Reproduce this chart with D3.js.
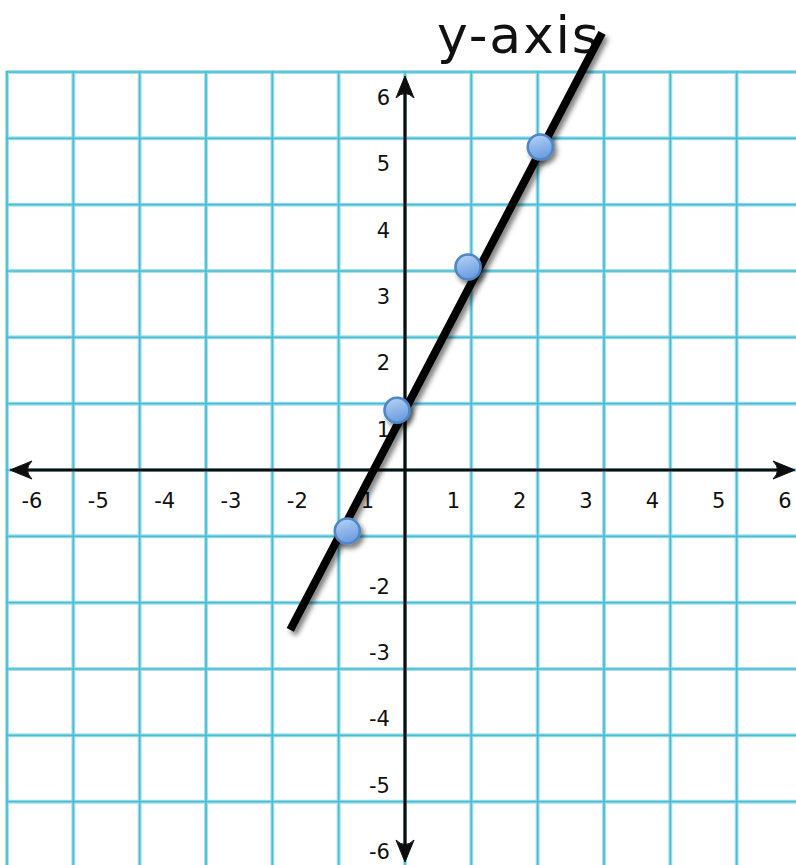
<!DOCTYPE html>
<html>
<head>
<meta charset="utf-8">
<script src="https://cdn.jsdelivr.net/npm/d3@7"></script>
<style>
  html, body { margin: 0; padding: 0; background: #fff; }
  svg { display: block; }
</style>
</head>
<body>
<svg id="chart" width="796" height="865"></svg>
<script>
// Graph-paper plot of a straight line through four marked points
const gridValues = d3.range(-6, 7);                 // grid lines from -6 to 6
const xTickLabels = [-6, -5, -4, -3, -2, -1, 1, 2, 3, 4, 5, 6];
const yTickLabels = [6, 5, 4, 3, 2, 1, -2, -3, -4, -5, -6];
const pointX = [-0.87, -0.12, 0.95, 2.04];
const pointY = [-0.92, 0.90, 3.06, 4.87];
const lineX = [-1.73, 2.97];
const lineY = [-2.41, 6.59];
const axisTitle = "y-axis";

const svg = d3.select("#chart");
const x = d3.scaleLinear().domain([-6, 6]).range([7, 803]);
const y = d3.scaleLinear().domain([-6, 6]).range([868, 72]);

const defs = svg.append("defs");
const shadow = defs.append("filter").attr("id", "shadow")
  .attr("x", "-50%").attr("y", "-50%").attr("width", "200%").attr("height", "200%");
shadow.append("feDropShadow").attr("dx", 3).attr("dy", 4)
  .attr("stdDeviation", 2.5).attr("flood-color", "#000").attr("flood-opacity", 0.5);
const soft = defs.append("filter").attr("id", "soft");
soft.append("feGaussianBlur").attr("stdDeviation", 0.6);

const grad = defs.append("linearGradient").attr("id", "dotFill")
  .attr("x1", 0).attr("y1", 0).attr("x2", 0.3).attr("y2", 1);
grad.append("stop").attr("offset", "0%").attr("stop-color", "#b9d5f7");
grad.append("stop").attr("offset", "100%").attr("stop-color", "#6d9de0");

// grid: a pale halo with a stronger core, like ink on graph paper
const grid = svg.append("g").attr("filter", "url(#soft)");
const gridLayers = [{ w: 4, c: "#a6e0ec" }, { w: 1.7, c: "#48bdd3" }];
gridLayers.forEach(layer => {
  grid.append("g").selectAll("line").data(gridValues).join("line")
    .attr("x1", d => x(d)).attr("x2", d => x(d))
    .attr("y1", y(6) - 1).attr("y2", y(-6))
    .attr("stroke", layer.c).attr("stroke-width", layer.w);
  grid.append("g").selectAll("line").data(gridValues).join("line")
    .attr("y1", d => y(d)).attr("y2", d => y(d))
    .attr("x1", x(-6) - 1).attr("x2", x(6))
    .attr("stroke", layer.c).attr("stroke-width", layer.w);
});

// title
svg.append("text")
  .attr("x", 437).attr("y", 53)
  .attr("font-family", "DejaVu Sans")
  .attr("font-size", 52)
  .attr("letter-spacing", 1.8)
  .attr("fill", "#111")
  .text(axisTitle);

// axes with slim arrow heads
const axes = svg.append("g").attr("filter", "url(#soft)");
const xl = x(-5.955), xr = x(5.88), yt = y(5.94), yb = y(-5.91);
axes.append("line").attr("x1", xl + 4).attr("x2", xr - 4).attr("y1", y(0)).attr("y2", y(0))
  .attr("stroke", "#111").attr("stroke-width", 3.2);
axes.append("line").attr("y1", yt + 4).attr("y2", yb - 4).attr("x1", x(0)).attr("x2", x(0))
  .attr("stroke", "#111").attr("stroke-width", 3.2);
// arrow head pointing along +x, drawn at origin and rotated into place
const arrow = "M0,0 L-22,-9 Q-13,0 -22,9 Z";
const heads = [
  { tx: xr, ty: y(0), rot: 0 },
  { tx: xl, ty: y(0), rot: 180 },
  { tx: x(0), ty: yt, rot: -90 },
  { tx: x(0), ty: yb, rot: 90 }
];
axes.selectAll("path.head").data(heads).join("path")
  .attr("d", arrow)
  .attr("transform", d => `translate(${d.tx},${d.ty}) rotate(${d.rot})`)
  .attr("fill", "#111").attr("stroke", "#111").attr("stroke-width", 1)
  .attr("stroke-linejoin", "round");

// tick labels
const labels = svg.append("g").attr("font-family", "DejaVu Sans")
  .attr("font-size", 21).attr("fill", "#111");
labels.selectAll("text.x").data(xTickLabels).join("text")
  .attr("x", d => x(d) + (d < 0 ? 25 : -18))
  .attr("y", y(0) + 38)
  .attr("text-anchor", "middle")
  .text(d => d);
labels.selectAll("text.y").data(yTickLabels).join("text")
  .attr("x", x(0) - 15)
  .attr("y", d => y(d) + (d > 0 ? 33 : -9))
  .attr("text-anchor", "end")
  .text(d => d);

// fitted line
svg.append("line")
  .attr("x1", x(lineX[0])).attr("y1", y(lineY[0]))
  .attr("x2", x(lineX[1])).attr("y2", y(lineY[1]))
  .attr("stroke", "#000").attr("stroke-width", 8)
  .attr("filter", "url(#shadow)");

// points
svg.append("g").selectAll("circle").data(pointX).join("circle")
  .attr("cx", d => x(d))
  .attr("cy", (d, i) => y(pointY[i]))
  .attr("r", 12.5)
  .attr("fill", "url(#dotFill)")
  .attr("stroke", "#4f86c6").attr("stroke-width", 2.6)
  .attr("filter", "url(#shadow)");
</script>
</body>
</html>
